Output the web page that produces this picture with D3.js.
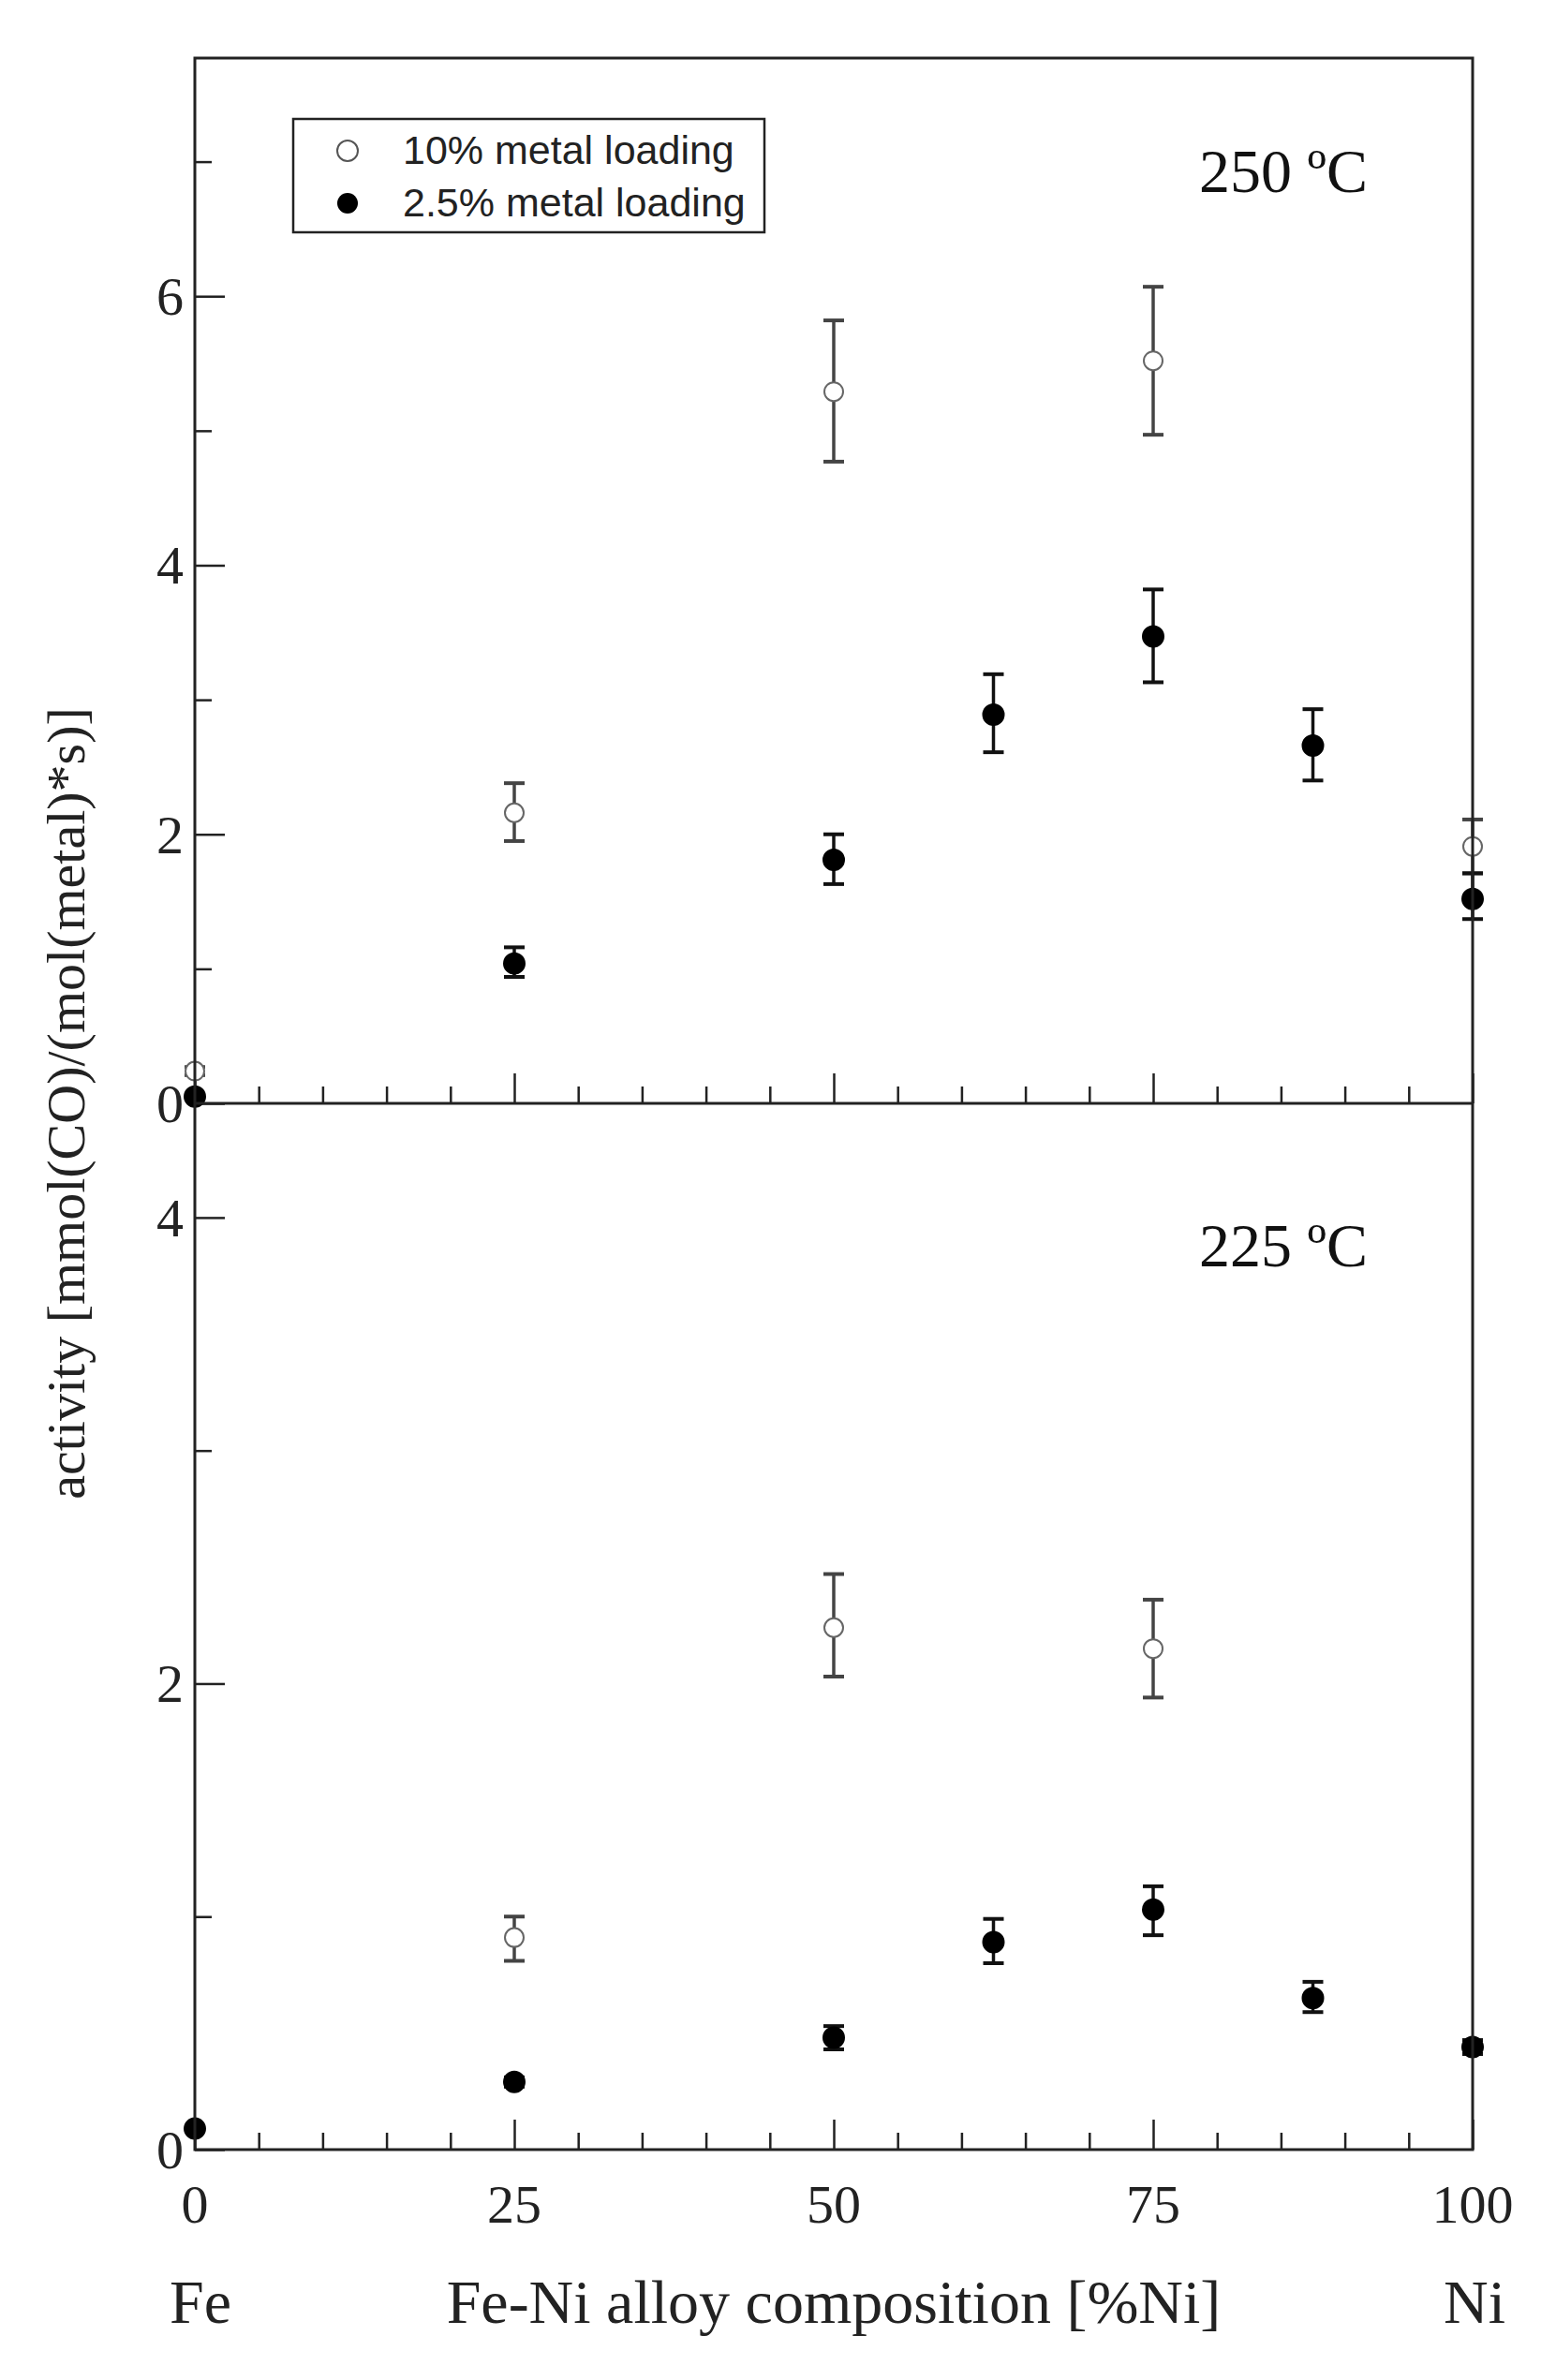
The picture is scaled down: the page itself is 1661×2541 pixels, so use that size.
<!DOCTYPE html>
<html><head><meta charset="utf-8">
<script src="https://cdn.jsdelivr.net/npm/d3@7"></script>
<style>body{margin:0;background:#fff}</style>
</head><body><div id="chart"></div>
<script>
// composition [%Ni]
const comp = [0, 25, 50, 62.5, 75, 87.5, 100]

// 250 C panel: [value, low, high], null = no point
const open250 = [[0.24,0.21,0.27],[2.16,1.95,2.38],[5.29,4.77,5.82],null,[5.52,4.97,6.07],null,[1.91,1.71,2.11]]
const fill250 = [[0.05,0.04,0.06],[1.04,0.94,1.16],[1.81,1.63,2.0],[2.89,2.61,3.19],[3.47,3.13,3.82],[2.66,2.4,2.93],[1.52,1.37,1.71]]
// 225 C panel
const open225 = [null,[0.91,0.81,1.0],[2.24,2.03,2.47],null,[2.15,1.94,2.36],null,null]
const fill225 = [[0.09,0.08,0.1],[0.29,0.27,0.31],[0.48,0.43,0.53],[0.89,0.8,0.99],[1.03,0.92,1.13],[0.65,0.59,0.72],[0.44,0.41,0.47]]

const xTicks = [0, 25, 50, 75, 100]
const topTicks = [0, 2, 4, 6]
const botTicks = [0, 2, 4]

const W = 1661, H = 2541
const left = 208, right = 1572
const svg = d3.select("#chart").append("svg").attr("width", W).attr("height", H)
  .style("font-family", "Liberation Serif, serif")

const x = d3.scaleLinear().domain([0, 100]).range([left, right])

function panel(yTop, yBot, ymax, ticks, open, fill, label, labelY, showXLabels) {
  const y = d3.scaleLinear().domain([0, ymax]).range([yBot, yTop])
  const g = svg.append("g")

  // x ticks pointing inward (up)
  const xa = g.append("g").attr("transform", `translate(0,${yBot})`)
    .call(d3.axisTop(x).tickValues(d3.range(0, 101, 5)).tickSize(0).tickFormat(""))
  xa.selectAll(".tick line").attr("y2", d => xTicks.includes(d) ? -32 : -18).attr("stroke", "#222").attr("stroke-width", 2.5)
  xa.select(".domain").remove()

  // y ticks pointing inward (right)
  const ya = g.append("g").attr("transform", `translate(${left},0)`)
    .call(d3.axisLeft(y).tickValues(d3.range(0, ymax, 1)).tickSize(0).tickFormat(""))
  ya.selectAll(".tick line").attr("x2", d => ticks.includes(d) ? 32 : 18).attr("stroke", "#222").attr("stroke-width", 2.5)
  ya.select(".domain").remove()
  g.selectAll(".ylab").data(ticks).join("text")
    .attr("x", left - 12).attr("y", d => y(d) + 20).attr("text-anchor", "end")
    .attr("font-size", 58).attr("fill", "#222").text(d => d)

  if (showXLabels) {
    g.selectAll(".xlab").data(xTicks).join("text")
      .attr("x", d => x(d)).attr("y", yBot + 78).attr("text-anchor", "middle")
      .attr("font-size", 58).attr("fill", "#222").text(d => d)
  }

  g.append("text").attr("x", 1460).attr("y", labelY).attr("text-anchor", "end")
    .attr("font-size", 66).attr("fill", "#111").text(label)

  function series(data, filled) {
    const pts = data.map((d, i) => d && {c: comp[i], v: d[0], lo: d[1], hi: d[2]}).filter(d => d)
    const col = filled ? "#111" : "#444"
    const s = g.append("g")
    s.selectAll(".eb").data(pts).join("line")
      .attr("x1", d => x(d.c)).attr("x2", d => x(d.c)).attr("y1", d => y(d.lo)).attr("y2", d => y(d.hi))
      .attr("stroke", col).attr("stroke-width", 3.5)
    for (const k of ["lo", "hi"]) {
      s.selectAll(".cap" + k).data(pts).join("line")
        .attr("x1", d => x(d.c) - 11).attr("x2", d => x(d.c) + 11).attr("y1", d => y(d[k])).attr("y2", d => y(d[k]))
        .attr("stroke", col).attr("stroke-width", 4)
    }
    s.selectAll("circle").data(pts).join("circle")
      .attr("cx", d => x(d.c)).attr("cy", d => y(d.v)).attr("r", filled ? 11 : 10)
      .attr("fill", filled ? "#000" : "#fff").attr("stroke", filled ? "#000" : "#666").attr("stroke-width", 2)
  }
  series(open, false)
  series(fill, true)
}

const top0 = 62, mid = 1178, bot0 = 2295
panel(top0, mid, 7.77, topTicks, open250, fill250, "250 ºC", 205, false)
panel(mid, bot0, 4.49, botTicks, open225, fill225, "225 ºC", 1352, true)

// frame
svg.append("rect").attr("x", left).attr("y", top0).attr("width", right - left).attr("height", bot0 - top0)
  .attr("fill", "none").attr("stroke", "#222").attr("stroke-width", 3)
svg.append("line").attr("x1", left).attr("x2", right).attr("y1", mid).attr("y2", mid)
  .attr("stroke", "#222").attr("stroke-width", 3)

// legend
const lg = svg.append("g").attr("font-family", "Liberation Sans, Arial, sans-serif")
lg.append("rect").attr("x", 313).attr("y", 127).attr("width", 503).attr("height", 121)
  .attr("fill", "#fff").attr("stroke", "#222").attr("stroke-width", 2.5)
lg.append("circle").attr("cx", 371).attr("cy", 161).attr("r", 11).attr("fill", "#fff").attr("stroke", "#555").attr("stroke-width", 2)
lg.append("circle").attr("cx", 371).attr("cy", 217).attr("r", 11).attr("fill", "#000")
lg.append("text").attr("x", 430).attr("y", 175).attr("font-size", 43).attr("fill", "#222").text("10% metal loading")
lg.append("text").attr("x", 430).attr("y", 231).attr("font-size", 43).attr("fill", "#222").text("2.5% metal loading")

// axis titles
svg.append("text").attr("transform", `translate(90,${mid}) rotate(-90)`).attr("text-anchor", "middle")
  .attr("font-size", 58).attr("fill", "#222").text("activity [mmol(CO)/(mol(metal)*s)]")
svg.append("text").attr("x", 890).attr("y", 2480).attr("text-anchor", "middle")
  .attr("font-size", 66).attr("fill", "#222").text("Fe-Ni alloy composition [%Ni]")
svg.append("text").attr("x", 214).attr("y", 2480).attr("text-anchor", "middle")
  .attr("font-size", 66).attr("fill", "#222").text("Fe")
svg.append("text").attr("x", 1574).attr("y", 2480).attr("text-anchor", "middle")
  .attr("font-size", 66).attr("fill", "#222").text("Ni")
</script></body></html>
